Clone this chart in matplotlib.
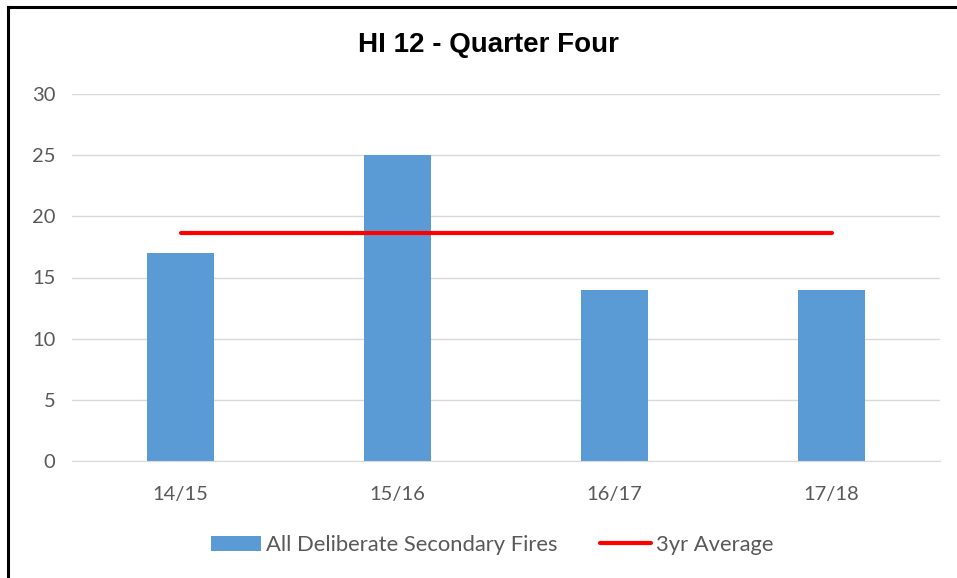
import matplotlib.pyplot as plt
from matplotlib.lines import Line2D

# Chart data
seasons = ["14/15", "15/16", "16/17", "17/18"]
fires = [17, 25, 14, 14]
avg_3yr = [18.67, 18.67, 18.67, 18.67]

BAR_BLUE = "#5B9BD5"
RED = "#FF0000"
GREY_TEXT = "#595959"

fig = plt.figure(figsize=(9.57, 5.78), dpi=100)
ax = fig.add_axes([72 / 957, (578 - 461) / 578, 868 / 957, (461 - 94) / 578])

x = range(len(seasons))
bars = ax.bar(x, fires, width=0.31, color=BAR_BLUE, label="All Deliberate Secondary Fires", zorder=2)
avg_line, = ax.plot(x, avg_3yr, color=RED, linewidth=3, solid_capstyle="round",
                    label="3yr Average", zorder=3)

ax.set_xlim(-0.5, len(seasons) - 0.5)
ax.set_ylim(0, 30)
ax.set_yticks(range(0, 31, 5))
ax.set_xticks(list(x))
ax.set_xticklabels(seasons)
ax.grid(axis="y", color="#D9D9D9", linewidth=1, zorder=0)
for side in ["top", "right", "left"]:
    ax.spines[side].set_visible(False)
ax.spines["bottom"].set_color("#D9D9D9")
ax.tick_params(length=0, labelsize=14.5, labelcolor=GREY_TEXT)
ax.tick_params(axis="x", pad=18)
ax.tick_params(axis="y", pad=12)
for lbl in ax.get_xticklabels() + ax.get_yticklabels():
    lbl.set_family("Lato")

fig.text(488 / 957, 1 - 45 / 578, "HI 12 - Quarter Four", ha="center", va="center",
         fontsize=20, fontweight="bold", family="Liberation Sans")

ax.legend([bars, avg_line], ["All Deliberate Secondary Fires", "3yr Average"],
          loc="center", bbox_to_anchor=(492 / 957, (578 - 545) / 578), bbox_transform=fig.transFigure,
          ncol=2, frameon=False, prop={"family": "Lato", "size": 15.8},
          labelcolor=GREY_TEXT, handlelength=2.3, handletextpad=0.23, columnspacing=1.95)

# frame along the left and top edges
fig.add_artist(Line2D([8 / 957, 8 / 957], [0, 1 - 7 / 578], transform=fig.transFigure,
                      color="black", linewidth=2.2))
fig.add_artist(Line2D([8 / 957, 1], [1 - 7 / 578, 1 - 7 / 578], transform=fig.transFigure,
                      color="black", linewidth=2.2))

fig.savefig("out.png", dpi=100)
